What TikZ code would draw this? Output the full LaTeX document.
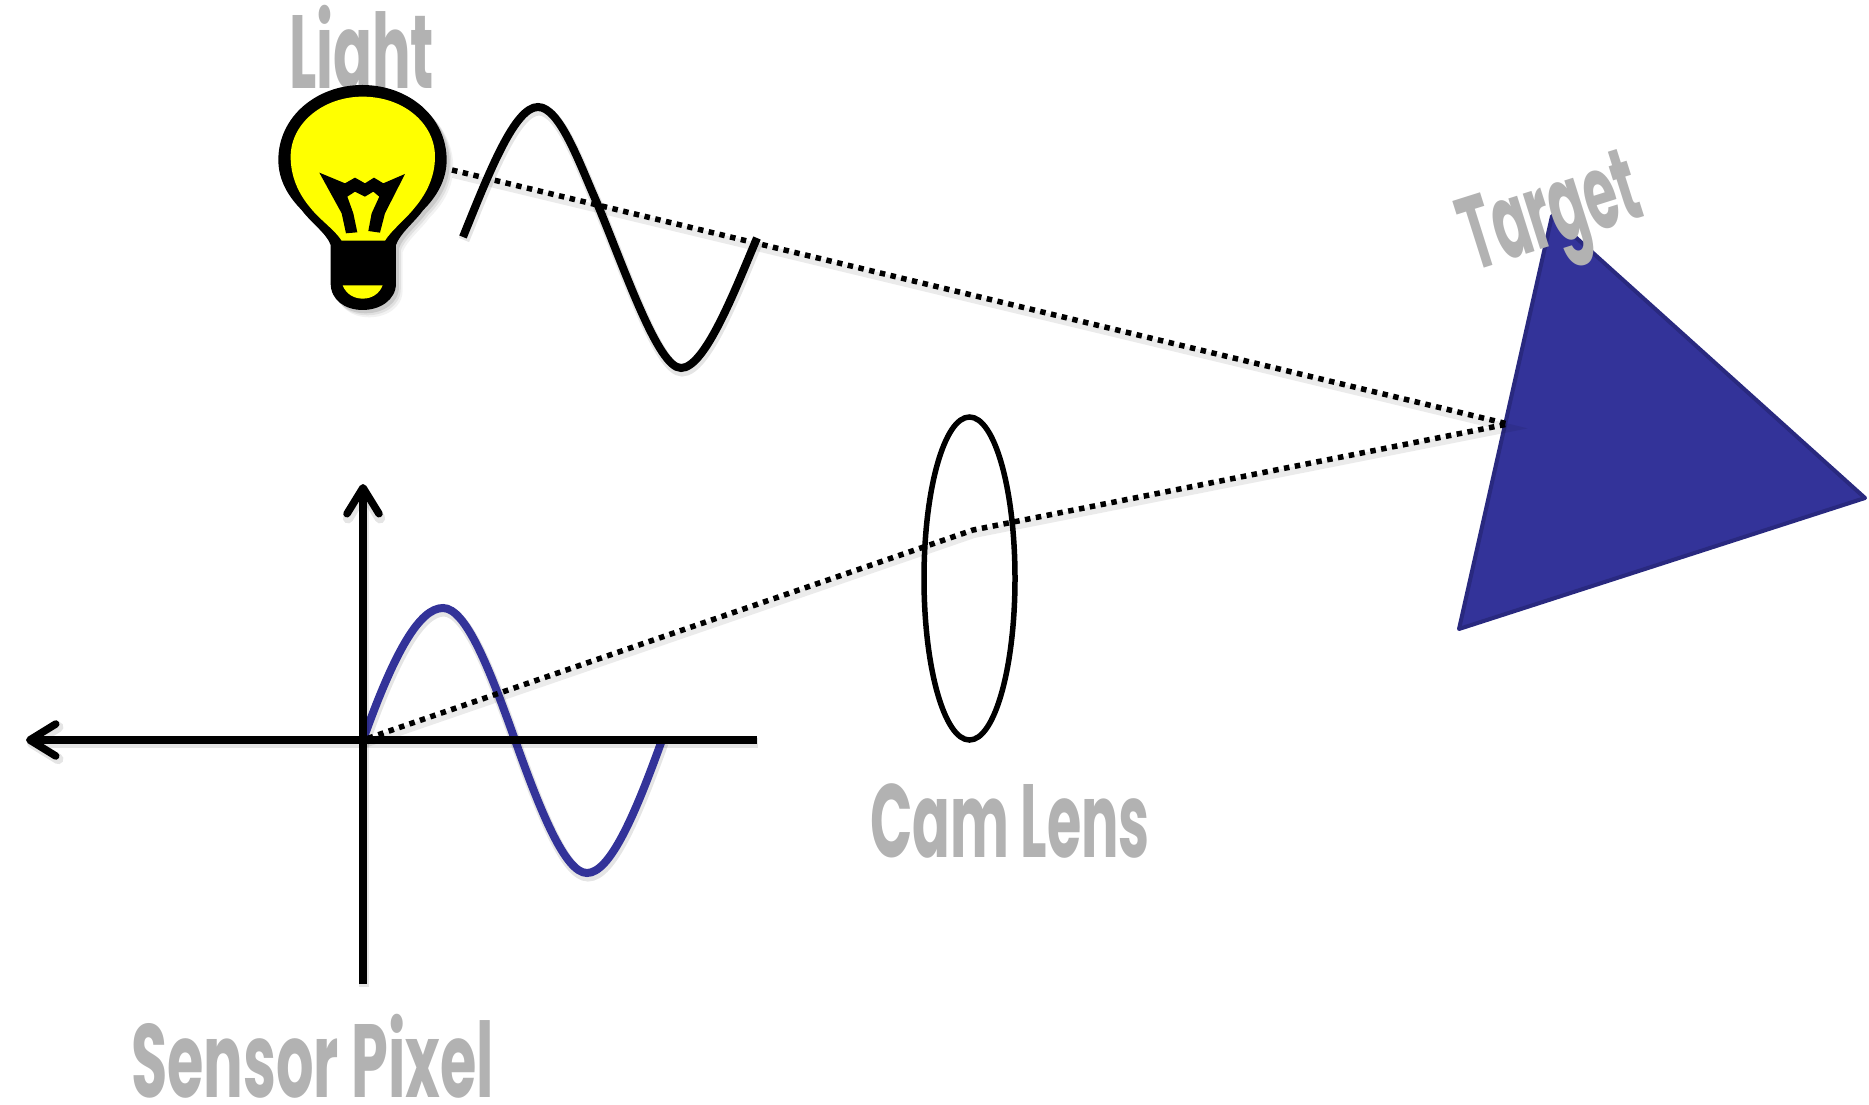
\documentclass[tikz,border=0pt]{standalone}
\usepackage{fontspec}
\usepackage{graphicx}
\setmainfont{Poppins}[BoldFont={* Bold}]
\usetikzlibrary{arrows.meta}
\definecolor{lab}{HTML}{B2B2B2}
\definecolor{bluew}{HTML}{333399}
\definecolor{blued}{HTML}{29297F}
\definecolor{bulb}{HTML}{FFFF00}
\newcommand\lblfont{\fontsize{104}{104}\selectfont\bfseries}
\newcommand\lbl[2]{\resizebox*{#1}{\totalheight}{\lblfont #2}}
\newlength\targetw
\AtBeginDocument{\settowidth{\targetw}{\lblfont Target}}
\tikzset{
  labelnode/.style={inner sep=0pt,outer sep=0pt,text=lab,anchor=base west},
  softline/.style={preaction={draw=black,opacity=.10,line width=#1+3pt,transform canvas={xshift=1pt,yshift=-3pt}},line width=#1},
  wave/.style={softline=8pt,draw=black,line cap=butt},
  ray/.style={draw=black,line width=5.5pt,dash pattern=on 5.5pt off 5.5pt,preaction={draw=black,opacity=.08,line width=8pt,solid,transform canvas={xshift=1pt,yshift=-4pt}}},
  axisline/.style={softline=7.5pt,draw=black},
  lensline/.style={draw=black,line width=5.5pt},
  barb/.tip={Straight Barb[round,length=26pt,width=32pt]},
  bulbouter/.pic={
    \fill[pic actions]
    (212,735) .. controls (200,700) and (150,665) .. (125,630)
    .. controls (85,590) and (55,540) .. (55,480)
    .. controls (55,350) and (170,255) .. (307,255)
    .. controls (445,255) and (560,350) .. (560,480)
    .. controls (560,540) and (530,590) .. (490,630)
    .. controls (465,665) and (420,700) .. (408,735)
    -- (408,850) .. controls (408,900) and (360,930) .. (308,930)
    .. controls (255,930) and (212,900) .. (212,850) -- cycle;
  }
}
\begin{document}
\begin{tikzpicture}[x=1pt,y=-1pt]
\useasboundingbox (0,0) rectangle (1869,1105);
% named points
\coordinate (bulbedge) at (452,170);
\coordinate (hit) at (1508,424);
\coordinate (lenscentre) at (973,530);
\coordinate (origin) at (363,740);
\coordinate (axtop) at (363,484);
\coordinate (axbottom) at (363,984);
\coordinate (axleft) at (26,740);
\coordinate (axright) at (757,740);
% Light label (bulb sits over it)
\node[labelnode] (lightlabel) at (289,89) {\lbl{145pt}{Light}};
% bulb
\begin{scope}[shift={(260,0)},x=.3333pt,y=-.3333pt]
  \foreach \o/\s in {.05/22,.07/16,.10/10}{
    \pic[black,opacity=\o] at (\s*.9,\s) {bulbouter};}
  \pic[black] at (0,0) {bulbouter};
  \fill[bulb]
    (245,722) .. controls (225,690) and (180,660) .. (150,622)
    .. controls (115,580) and (92,530) .. (92,470)
    .. controls (92,370) and (190,290) .. (308,290)
    .. controls (430,290) and (525,370) .. (525,470)
    .. controls (525,530) and (500,580) .. (465,622)
    .. controls (435,660) and (395,690) .. (375,722) -- cycle;
  \fill[black] (178,518) -- (255,550) -- (285,533) -- (315,550) -- (342,533) -- (370,550) -- (435,522)
    -- (375,640) -- (360,698) -- (325,693) -- (335,640) -- (358,590) -- (340,575) -- (315,590)
    -- (285,575) -- (262,590) -- (280,640) -- (292,697) -- (258,700) -- (245,640) -- cycle;
  \fill[bulb] (248,856) -- (368,856) .. controls (358,882) and (335,896) .. (308,896)
    .. controls (282,896) and (258,882) .. (248,856) -- cycle;
\end{scope}
% target
\draw[fill=bluew,draw=blued,line width=4pt,line join=round]
  (1552,216) -- (1865,498) -- (1459,629) -- cycle;
\pgfmathsetmacro\targetsx{182pt/\targetw}
\begin{scope}[shift={(1473,271)},rotate=17.5,xscale=\targetsx]
  \node[labelnode,transform shape] (targetlabel) at (0,0) {\lblfont Target};
\end{scope}
% sensor signal
\draw[bluew,softline=8pt]
  (363,740) .. controls (395,650) and (420,608) .. (443,608)
  .. controls (466,608) and (490,670) .. (515,740)
  .. controls (540,810) and (565,873) .. (587,873)
  .. controls (610,873) and (635,815) .. (662,740);
% rays
\path[ray,draw] (bulbedge) -- (hit) -- (lenscentre) -- (origin);
% lens
\draw[lensline] (969.5,578.5) ellipse [x radius=45.5,y radius=161.5];
% light signal
\draw[wave]
  (463,237) .. controls (490,170) and (515,107) .. (538,107)
  .. controls (560,107) and (580,165) .. (597,203)
  .. controls (625,270) and (658,368) .. (681,368)
  .. controls (705,368) and (735,290) .. (757,238);
% axes
\draw[axisline,-{barb}] (axbottom) -- (axtop);
\draw[axisline,-{barb}] (axright) -- (axleft);
% labels
\node[labelnode] (lenslabel) at (870,857) {\lbl{280pt}{Cam Lens}};
\node[labelnode] (sensorlabel) at (131,1097) {\lbl{363pt}{Sensor Pixel}};
\end{tikzpicture}
\end{document}
